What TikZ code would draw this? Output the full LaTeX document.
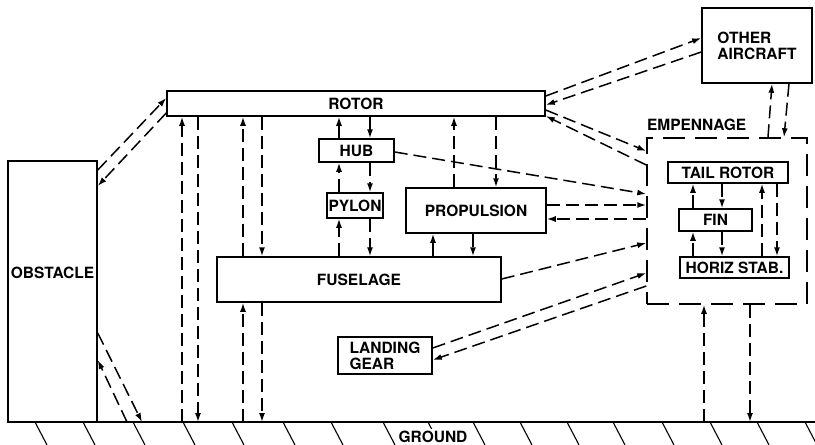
\documentclass[tikz,border=0pt]{standalone}
\usepackage{fontspec}
\setmainfont{TeX Gyre Heros}
\usetikzlibrary{arrows.meta}
\begin{document}
\begin{tikzpicture}[x=1pt,y=-1pt,line width=1.5pt,
  every node/.style={font=\fontsize{15.5}{16}\selectfont\bfseries,inner sep=0pt},
  blk/.style={draw,rectangle},
  sig/.style={dash pattern=on 13pt off 6pt},
  >={Latex[length=9pt,width=6pt]}]
\useasboundingbox (0,0) rectangle (815,445);
\node[blk,minimum width=89,minimum height=261] (obstacle) at (52.5,291.5) {};
\node (obstlab) at (52.5,273) {OBSTACLE};
\node[blk,minimum width=378,minimum height=25] (rotor) at (356,103.5) {ROTOR};
\node[blk,minimum width=75,minimum height=23] (hub) at (356.5,150.5) {HUB};
\node[blk,minimum width=56,minimum height=25] (pylon) at (355,205.5) {PYLON};
\node[blk,minimum width=140,minimum height=45] (prop) at (476,210.5) {PROPULSION};
\node[blk,minimum width=284,minimum height=45] (fuselage) at (359,279.5) {FUSELAGE};
\node[blk,minimum width=94,minimum height=37,align=left] (gear) at (385,355.5) {LANDING\\GEAR};
\node[blk,minimum width=110,minimum height=75,align=left] (other) at (757,45.5) {OTHER\\AIRCRAFT};
\node[draw,dash pattern=on 22pt off 10pt,minimum width=160,minimum height=166] (emp) at (727,221) {};
\node[anchor=base west] (emplab) at ([yshift=7pt]emp.north west) {EMPENNAGE};
\node[blk,minimum width=120,minimum height=21] (tail) at (728,172.5) {TAIL ROTOR};
\node[blk,minimum width=73,minimum height=22] (fin) at (715.5,220) {FIN};
\node[blk,minimum width=109,minimum height=21] (horiz) at (734.5,267.5) {HORIZ STAB.};
% ground
\coordinate (gl) at (8,422);
\coordinate (gr) at (815,422);
\draw (gl) -- (gr);
\foreach \x in {35,83,133,183,232,283,331,383,428,473,520,567,613,662,710,757,805}
  \draw[line width=1.1pt] (\x,422) -- (\x+12,445);
\node[fill=white,inner sep=2pt] (ground) at (433,437) {GROUND};
% obstacle
\draw[sig,->] (obstacle.east |- 0,170) -- (rotor.west |- 0,98);
\draw[sig,->] (rotor.west |- 0,113) -- (obstacle.east |- 0,186);
\draw[sig,->] (obstacle.east |- 0,333) -- (gl -| 142,0);
\draw[sig,->] (gl -| 127,0) -- (obstacle.east |- 0,360);
% rotor and fuselage to ground
\draw[sig,->] (gl -| 182,0) -- (rotor.south -| 182,0);
\draw[sig,->] (rotor.south -| 198,0) -- (gl -| 198,0);
\draw[sig,->] (fuselage.north -| 243,0) -- (rotor.south -| 243,0);
\draw[sig,->] (rotor.south -| 262,0) -- (fuselage.north -| 262,0);
\draw[sig,->] (gl -| 243,0) -- (fuselage.south -| 243,0);
\draw[sig,->] (fuselage.south -| 262,0) -- (gl -| 262,0);
% rotor, hub, pylon, fuselage
\draw[sig,->] (hub.north -| 339,0) -- (rotor.south -| 339,0);
\draw[sig,->] (rotor.south -| 370,0) -- (hub.north -| 370,0);
\draw[sig,->] (pylon.north -| 339,0) -- (hub.south -| 339,0);
\draw[sig,->] (hub.south -| 370,0) -- (pylon.north -| 370,0);
\draw[sig,->] (fuselage.north -| 339,0) -- (pylon.south -| 339,0);
\draw[sig,->] (pylon.south -| 370,0) -- (fuselage.north -| 370,0);
% propulsion
\draw[sig,->] (prop.north -| 454,0) -- (rotor.south -| 454,0);
\draw[sig,->] (rotor.south -| 496,0) -- (prop.north -| 496,0);
\draw[sig,->] (fuselage.north -| 433,0) -- (prop.south -| 433,0);
\draw[sig,->] (prop.south -| 473,0) -- (fuselage.north -| 473,0);
% to empennage
\draw[sig,->] (hub.east |- 0,152) -- (emp.west |- 0,194);
\draw[sig,->] (prop.east |- 0,205) -- (emp.west |- 0,205);
\draw[sig,->] (emp.west |- 0,219) -- (prop.east |- 0,219);
\draw[sig,->] (fuselage.east |- 0,279) -- (emp.west |- 0,243);
\draw[sig,->] (gear.east |- 0,348) -- (emp.west |- 0,273);
\draw[sig,->] (emp.west |- 0,286) -- (gear.east |- 0,360);
\draw[sig,->] (rotor.east |- 0,110) -- (emp.west |- 0,151);
\draw[sig,->] (emp.west |- 0,165) -- (rotor.east |- 0,116);
% other aircraft
\draw[sig,->] (rotor.east |- 0,96) -- (other.west |- 0,38);
\draw[sig,->] (other.west |- 0,52) -- (rotor.east |- 0,105);
\draw[sig,->] (emp.north -| 768,0) -- (other.south -| 772,0);
\draw[sig,->] (other.south -| 789,0) -- (emp.north -| 784,0);
% inside empennage
\draw[sig,->] (fin.north -| 693,0) -- (tail.south -| 693,0);
\draw[sig,->] (tail.south -| 722,0) -- (fin.north -| 722,0);
\draw[sig,->] (horiz.north -| 693,0) -- (fin.south -| 693,0);
\draw[sig,->] (fin.south -| 722,0) -- (horiz.north -| 722,0);
\draw[sig,->] (horiz.north -| 762,0) -- (tail.south -| 762,0);
\draw[sig,->] (tail.south -| 777,0) -- (horiz.north -| 777,0);
\draw[sig,->] (gl -| 704,0) -- (emp.south -| 704,0);
\draw[sig,->] (emp.south -| 750,0) -- (gl -| 750,0);
\end{tikzpicture}
\end{document}
